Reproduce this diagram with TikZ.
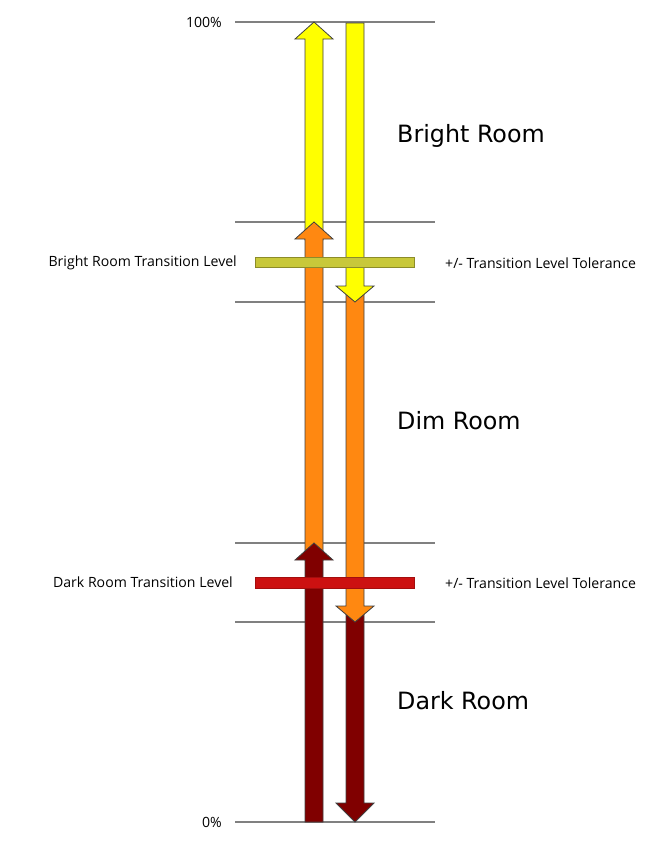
\documentclass[tikz,border=0pt]{standalone}
\usepackage{xcolor}
\usepackage{fontspec}
\setmainfont{Open Sans}
\newfontfamily\roomfont{DejaVu Sans}
\usepackage{tikz}

\definecolor{lvlgray}{HTML}{808080}
\definecolor{arryellow}{HTML}{FFFF00}
\definecolor{arrorange}{HTML}{FF8811}
\definecolor{arrdarkred}{HTML}{800000}
\definecolor{tololive}{HTML}{C8C83A}
\definecolor{tolred}{HTML}{CC1111}

\tikzset{
  level/.style={draw=lvlgray, line width=1.8pt},
  blockarrow/.style={draw=black!75, line width=0.8pt, line join=miter},
  tolbar/.style={line width=0.8pt},
  small/.style={font=\fontsize{14.1}{16}\selectfont, inner sep=0pt},
  room/.style={font=\roomfont\fontsize{23.8}{27}\selectfont, inner sep=0pt, anchor=west}
}

\begin{document}
\begin{tikzpicture}[x=1pt, y=-1pt]
        \useasboundingbox (0,0) rectangle (667,857);

        % Draw the level lines
        \foreach \yy in {22,222,302,543,622,822}
            \draw[level] (235,\yy) -- (435,\yy);

        % Label the end levels
        \node[small, anchor=east] (top) at (222,22) {100\%};
        \node[small, anchor=east] (bottom) at (222,822) {0\%};

        % Draw the rising arrows
        \draw[blockarrow, fill=arryellow] (305,240) -- (305,39) -- (295,39) -- (314,22) -- (333,39) -- (323,39) -- (323,240) -- cycle;
        \draw[blockarrow, fill=arrorange] (305,560) -- (305,239) -- (295,239) -- (314,222) -- (333,239) -- (323,239) -- (323,560) -- cycle;
        \draw[blockarrow, fill=arrdarkred] (305,822) -- (305,560) -- (295,560) -- (314,543) -- (333,560) -- (323,560) -- (323,822) -- cycle;

        % Draw the falling arrows
        \draw[blockarrow, fill=arrdarkred] (346,612) -- (346,803) -- (336,803) -- (355,822) -- (374,803) -- (364,803) -- (364,612) -- cycle;
        \draw[blockarrow, fill=arrorange] (346,292) -- (346,606) -- (336,606) -- (355,622) -- (374,606) -- (364,606) -- (364,292) -- cycle;
        \draw[blockarrow, fill=arryellow] (346,23) -- (346,286) -- (336,286) -- (355,302) -- (374,286) -- (364,286) -- (364,23) -- cycle;

        % Draw the tolerance bars
        \draw[tolbar, draw=tololive!70!black, fill=tololive] (255,257) rectangle (414,267);
        \draw[tolbar, draw=tolred!80!black, fill=tolred] (255,577) rectangle (414,588);

        % Label the transition levels
        \node[small, anchor=east] (brightlvl) at (237,263) {Bright Room Transition Level};
        \node[small, anchor=west] (brighttol) at (445,263) {+/- Transition Level Tolerance};
        \node[small, anchor=east] (darklvl) at (233,582) {Dark Room Transition Level};
        \node[small, anchor=west] (darktol) at (445,583) {+/- Transition Level Tolerance};

        % Label the rooms
        \node[room] (bright) at (397,136) {Bright Room};
        \node[room] (dim) at (397,421) {Dim Room};
        \node[room] (dark) at (397,701) {Dark Room};
    \end{tikzpicture}
\end{document}
